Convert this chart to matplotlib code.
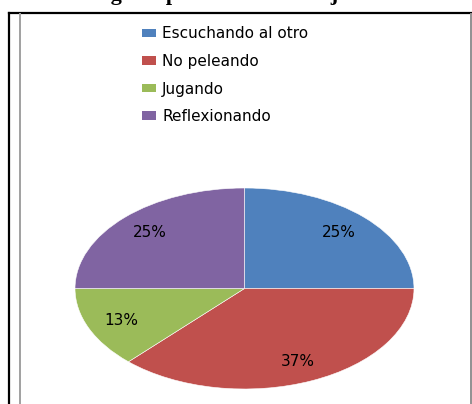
import matplotlib
matplotlib.use("Agg")
import matplotlib.pyplot as plt
from matplotlib.lines import Line2D
from matplotlib.patches import Patch

# ---------------- data ----------------
categorias = ["Escuchando al otro", "No peleando", "Jugando", "Reflexionando"]
porcentajes = [25, 37, 13, 25]
colores = ["#4F81BD", "#C0504D", "#9BBB59", "#8064A2"]
titulo = "Categoría por el buen manejo"

W, H = 472, 404
fig = plt.figure(figsize=(W / 100, H / 100), dpi=100, facecolor="w")

# ---------------- frame lines (figure coords) ----------------
def fx(px):
    return px / W

def fy(py):
    return 1 - py / H

fig.add_artist(Line2D([fx(8.5), 1], [fy(13), fy(13)], color="black", lw=1.6))
fig.add_artist(Line2D([fx(8.5), fx(8.5)], [0, fy(13)], color="black", lw=1.6))
fig.add_artist(Line2D([fx(20), fx(20)], [0, fy(14)], color="#a0a0a0", lw=1.4))
fig.add_artist(Line2D([fx(470.5), fx(470.5)], [0, fy(14)], color="#909090", lw=1.4))

# title, only its lower part shows at the top edge (as in the source)
fig.text(fx(66), 1.0, titulo, fontsize=16, fontweight="bold",
         family="Liberation Serif", ha="left", va="baseline")

# ---------------- pie (stretched into an ellipse) ----------------
ax = fig.add_axes([fx(75), fy(389), (414 - 75) / W, (389 - 188) / H])
wedges, texts, autotexts = ax.pie(
    porcentajes, colors=colores, startangle=90, counterclock=False,
    autopct="%.0f%%", pctdistance=0.79,
    wedgeprops=dict(edgecolor="white", linewidth=0.4),
    textprops=dict(fontsize=11, color="black", family="DejaVu Sans"))
ax.set_aspect("auto")
ax.set_xlim(-1, 1)
ax.set_ylim(-1, 1)
ax.axis("off")

# ---------------- legend ----------------
handles = [Patch(facecolor=c, edgecolor="none") for c in colores]
fig.legend(handles, categorias, loc="upper left",
           bbox_to_anchor=(fx(142), fy(26.5)), frameon=False,
           fontsize=11, handlelength=0.92, handleheight=0.46,
           handletextpad=0.4, labelspacing=0.82, borderpad=0,
           borderaxespad=0)

fig.savefig("out.png", dpi=100)
